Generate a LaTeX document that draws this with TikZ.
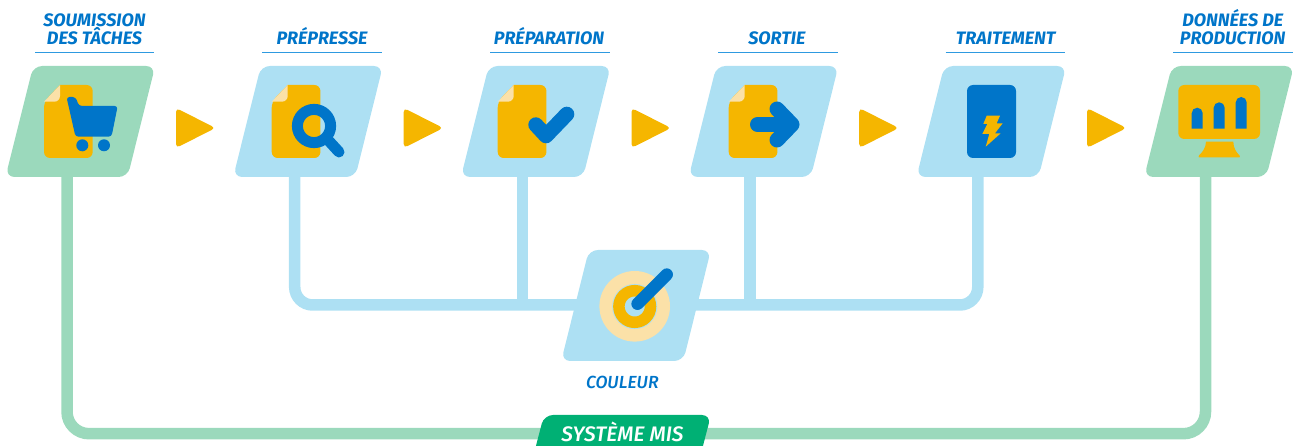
\documentclass[tikz,border=0pt]{standalone}
\usepackage{fontspec}
\setmainfont{Fira Sans}
\newfontfamily\medfont{Fira Sans Medium}
\definecolor{panelblue}{HTML}{ADE0F3}
\definecolor{panelgreen}{HTML}{9BD9BC}
\definecolor{amber}{HTML}{F5B600}
\definecolor{cream}{HTML}{FBE1A8}
\definecolor{deepblue}{HTML}{0075C9}
\definecolor{rulblue}{HTML}{2E9AE0}
\definecolor{badgegreen}{HTML}{00B074}
\tikzset{
  titletext/.style={font=\fontsize{18}{19}\selectfont\bfseries\itshape,text=deepblue,inner sep=0pt,anchor=base},
  anchorbox/.style={minimum width=122pt,minimum height=111pt,inner sep=0pt},
  panelshape/.style={rounded corners=9pt},
  blueline/.style={draw=panelblue,line width=11.5pt,rounded corners=18pt},
  greenline/.style={draw=panelgreen,line width=11.5pt,rounded corners=22pt},
  flowtip/.style={fill=amber,rounded corners=4pt},
  titlerule/.style={draw=rulblue,line width=1.1pt},
  inkstroke/.style={draw=deepblue,line cap=round,line join=round},
}
\newcommand{\panelat}[4]{% name, dx, dy, colour
  \begin{scope}[shift={(#2,#3)}]
    \fill[#4,panelshape] (33.2,66) -- (155.2,66) -- (127.6,177) -- (5.5,177) -- cycle;
    \node[anchorbox] (#1) at (80.2,121.5) {};
  \end{scope}}
\newcommand{\docat}[1]{%
  \begin{scope}[shift={(#1,0)}]
    \fill[amber,rounded corners=6pt] (16,85) -- (48.7,85) -- (48.7,158) -- (0,158) -- (0,101.7) [sharp corners] -- cycle;
    \fill[cream] (0,101.7) -- (16,85) -- (16,96) arc (0:90:5.7) -- cycle;
  \end{scope}}
\newcommand{\flowarrow}[1]{%
  \begin{scope}[shift={(#1,0)}]
    \path[flowtip] (0,108) -- (39.5,128) -- (0,148) -- cycle;
  \end{scope}}
\begin{document}
\begin{tikzpicture}[x=1pt,y=-1pt]
\useasboundingbox (0,0) rectangle (1294,446);
% connector end points
\coordinate (stem1) at (67,177);
\coordinate (stem2) at (294.7,177);
\coordinate (stem3) at (522.3,177);
\coordinate (stem4) at (750,177);
\coordinate (stem5) at (977.8,177);
\coordinate (stem6) at (1205.5,177);
\node[inner sep=0pt,minimum size=1pt] (colourhub) at (635,305) {};
\node[inner sep=0pt,minimum size=1pt] (syshub) at (622,433.7) {};
% connectors
\draw[greenline] (stem1) |- (syshub) -| (stem6);
\draw[blueline] (stem2) |- (colourhub);
\draw[blueline] (stem5) |- (colourhub);
\draw[draw=panelblue,line width=11.5pt] (stem3) -- (stem3 |- colourhub);
\draw[draw=panelblue,line width=11.5pt] (stem4) -- (stem4 |- colourhub);
% panels
\panelat{psub}{0}{0}{panelgreen}
\panelat{ppre}{227.7}{0}{panelblue}
\panelat{pprep}{455.5}{0}{panelblue}
\panelat{pout}{683.2}{0}{panelblue}
\panelat{ptrt}{911}{0}{panelblue}
\panelat{pdat}{1138.7}{0}{panelgreen}
\panelat{pcol}{555.7}{184}{panelblue}
% flow arrows
\flowarrow{176}\flowarrow{403.7}\flowarrow{631.5}\flowarrow{859.2}\flowarrow{1087}
% documents
\docat{44}\docat{271.7}\docat{497.7}\docat{728.7}
% cart
\fill[deepblue,rounded corners=3pt] (66.5,97) -- (75.5,97) -- (79,106) -- (117.7,106) -- (111.5,136.7) -- (75.5,136.7) -- cycle;
\fill[deepblue] (82.3,145.3) circle (6);
\fill[deepblue] (104,145.3) circle (6);
% magnifier
\draw[inkstroke,line width=11pt] (314,126) circle (16.6);
\draw[inkstroke,line width=11pt] (328,140) -- (339,152);
% check
\draw[inkstroke,line width=15pt] (535.8,124.8) -- (546,135.8) -- (566.8,114.2);
% output arrow
\draw[inkstroke,line width=15pt] (757.5,124.5) -- (790,124.5);
\draw[inkstroke,line width=15pt] (777,109) -- (792,124.5) -- (777,140);
% process card
\fill[deepblue,rounded corners=6pt] (967,85) rectangle (1016,158);
\fill[amber] (986.7,115.7) -- (983.3,124) -- (987.3,124) -- (982.3,134) -- (989.3,134) -- (985.7,146.7) -- (1000.7,133.3) -- (995,133.3) -- (1002.7,123.3) -- (996.7,123.3) -- (1000,115.7) -- cycle;
% monitor
\fill[amber,rounded corners=6pt] (1178.3,85) rectangle (1260,139);
\fill[amber] (1206,141.7) -- (1233.3,141.7) .. controls (1233.5,148) and (1236,152) .. (1239.5,155.5) .. controls (1240.5,157) and (1240,157.5) .. (1238.5,157.5) -- (1200,157.5) .. controls (1198.5,157.5) and (1198,157) .. (1199,155.5) .. controls (1202.5,152) and (1205.8,148) .. (1206,141.7) -- cycle;
\fill[deepblue] (1191.7,128.7) -- (1191.7,113.2) arc (180:360:5.5) -- (1202.7,128.7) -- cycle;
\fill[deepblue] (1213.7,128.7) -- (1213.7,107.8) arc (180:360:5.5) -- (1224.7,128.7) -- cycle;
\fill[deepblue] (1235.7,128.7) -- (1235.7,102.5) arc (180:360:5.5) -- (1246.7,128.7) -- cycle;
% colour target
\fill[cream] (634.7,306.3) circle (35.3);
\fill[panelblue] (634.7,306.5) circle (22.5);
\draw[amber,line width=11.5pt] (634.7,306.5) circle (15.8);
\fill[deepblue] (633.3,299.3) -- (641.7,308.3) -- (633.3,308.3) -- cycle;
\draw[inkstroke,line width=12.3pt] (637.5,303.8) -- (666.8,274.5);
% titles
\node[titletext] (tsub1) at (94.5,26.6) {SOUMISSION};
\node[titletext] (tsub2) at (94.5,44.6) {DES TÂCHES};
\node[titletext] (tpre) at (322,44.6) {PRÉPRESSE};
\node[titletext] (tprep) at (549,44.6) {PRÉPARATION};
\node[titletext] (tout) at (776.8,44.6) {SORTIE};
\node[titletext] (ttrt) at (1005.7,44.6) {TRAITEMENT};
\node[titletext] (tdat1) at (1232.7,26.6) {DONNÉES DE};
\node[titletext] (tdat2) at (1232.7,44.6) {PRODUCTION};
\draw[titlerule] (35,52.4) -- (154,52.4);
\draw[titlerule] (262.3,52.4) -- (382,52.4);
\draw[titlerule] (490,52.4) -- (610,52.4);
\draw[titlerule] (718,52.4) -- (837.5,52.4);
\draw[titlerule] (945.7,52.4) -- (1065,52.4);
\draw[titlerule] (1173,52.4) -- (1293,52.4);
\node[titletext,font=\fontsize{17.5}{18}\selectfont\medfont\itshape] (tcol) at (622.3,388.2) {COULEUR};
% badge
\begin{scope}
\clip (0,0) rectangle (1294,446);
\fill[badgegreen,rounded corners=9pt] (544,415) -- (711,415) -- (698,465) -- (531,465) -- cycle;
\node[titletext,font=\fontsize{21}{22}\selectfont\medfont\itshape,text=white] (tsys) at (622.5,441) {SYSTÈME MIS};
\end{scope}
\end{tikzpicture}
\end{document}
